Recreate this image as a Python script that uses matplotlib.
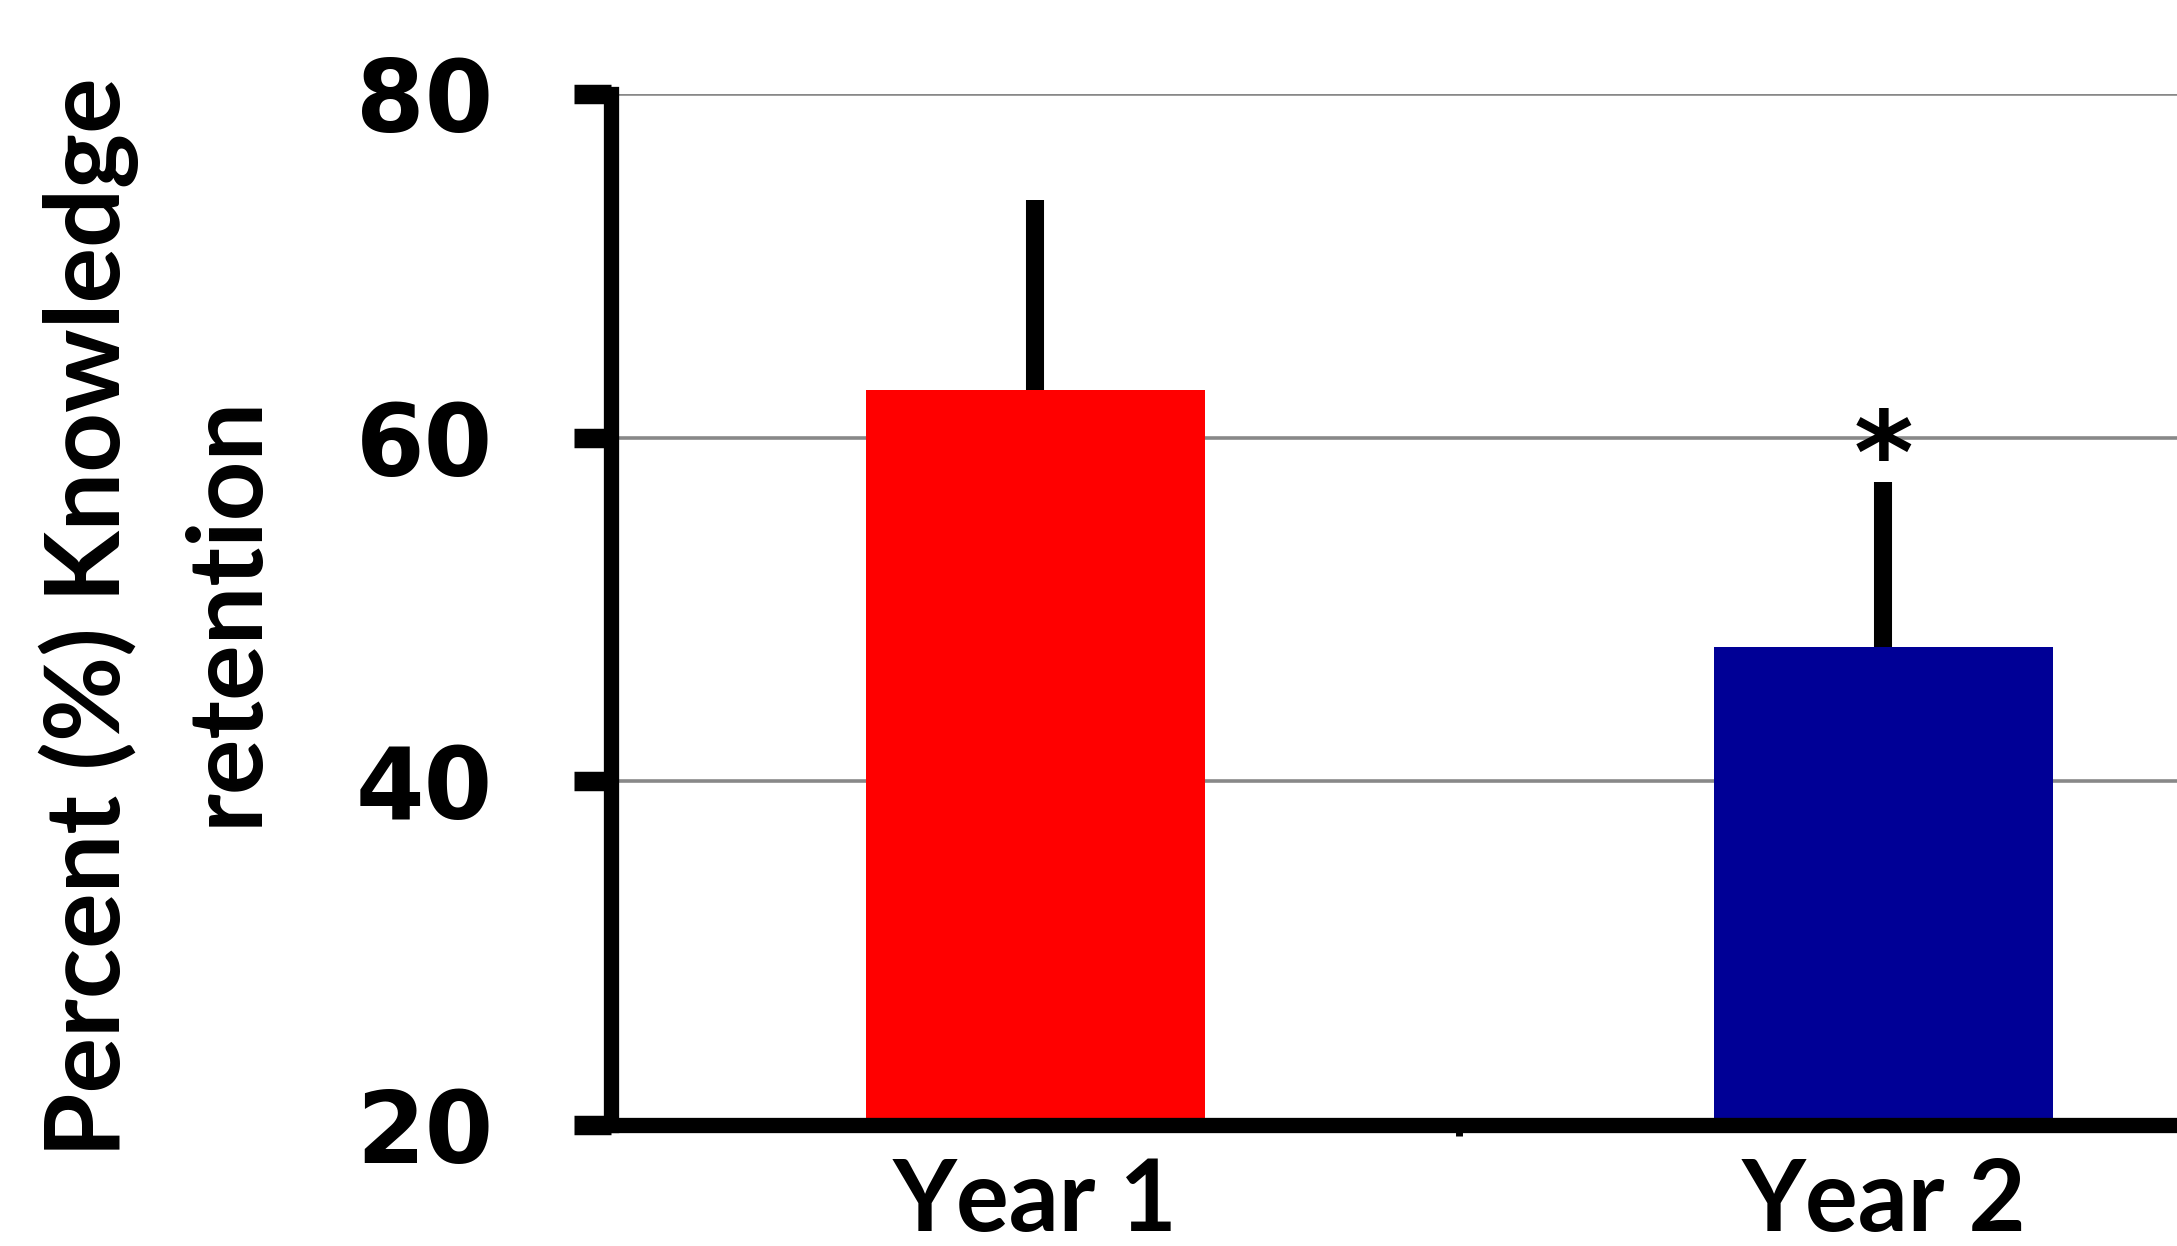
import matplotlib.pyplot as plt
import numpy as np

# values
years = ['Year 1', 'Year 2']
retention = [62.8, 47.8]
err_up = [11.0, 9.6]
bar_colors = ['#ff0000', '#000096']
sig_marks = ['', '*']
y_ticks = [20, 40, 60, 80]

plt.rcParams['font.family'] = ['Lato', 'DejaVu Sans']

fig = plt.figure(figsize=(21.77, 12.46), dpi=100)
ax = fig.add_axes([0.2807, 0.0971, 0.7193, 0.8275])

x = np.arange(len(years))
ax.bar(x, retention, width=0.4, color=bar_colors, zorder=2)
ax.errorbar(x, retention, yerr=[np.zeros(len(x)), err_up], fmt='none',
            ecolor='black', elinewidth=13, capsize=0, zorder=3)
for xi, top, e, mark in zip(x, retention, err_up, sig_marks):
    if mark:
        ax.annotate(mark, (xi, top + e), xytext=(0, -8), textcoords='offset points',
                    ha='center', va='baseline', fontsize=82, fontweight='bold',
                    family='DejaVu Sans')

ax.set_ylim(20, 80)
ax.set_xlim(-0.5, 1.346)
ax.set_yticks(y_ticks)
ax.set_yticklabels([str(t) for t in y_ticks], family='DejaVu Sans',
                   fontsize=71, fontweight='bold')
ax.tick_params(axis='y', length=27, width=14, pad=58, direction='out')
ax.yaxis.grid(True, color='#888888', linewidth=2.6, zorder=0)

# category boundaries as small ticks, names as zero-length minor ticks
ax.set_xticks([0.5])
ax.set_xticklabels([''])
ax.tick_params(axis='x', which='major', length=8, width=5)
ax.set_xticks(x, minor=True)
ax.set_xticklabels(years, minor=True, fontsize=71, fontweight='bold')
ax.tick_params(axis='x', which='minor', length=0, pad=23)

for s in ['top', 'right']:
    ax.spines[s].set_visible(False)
ax.spines['left'].set_linewidth(11)
ax.spines['bottom'].set_linewidth(11)
ax.spines['left'].set_zorder(4)
ax.spines['bottom'].set_zorder(4)

fig.text(0.041, 0.505, 'Percent (%) Knowledge', rotation=90, ha='center', va='center',
         fontsize=75, fontweight='bold')
fig.text(0.104, 0.51, 'retention', rotation=90, ha='center', va='center',
         fontsize=75, fontweight='bold')

fig.savefig('out.png', dpi=100)
